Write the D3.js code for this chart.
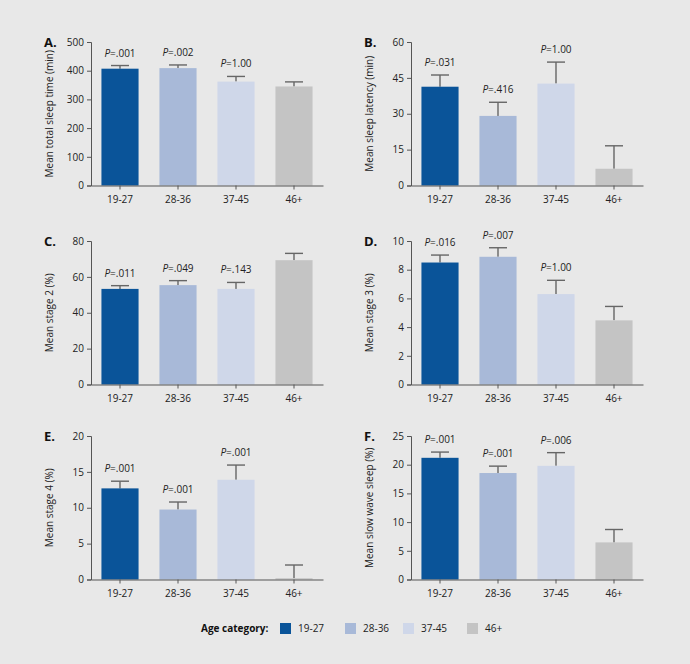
<!DOCTYPE html>
<html>

<head>
  <meta charset="UTF-8" />
  <title>Sleep by age category</title>
  <style>
    body {
      margin: 0;
      background: #e8e8e8;
      font-family: "Open Sans", "Noto Sans", sans-serif;
    }

    .axis path,
    .axis line {
      stroke: #555;
    }

    .axis text {
      font-size: 10px;
      fill: #222;
      font-family: "Open Sans", "Noto Sans", sans-serif;
    }
  </style>
  <script src="https://d3js.org/d3.v7.min.js"></script>
</head>

<body>
  <script>
    let categories = ["19-27", "28-36", "37-45", "46+"],
      colors = ["#0a5499", "#a8b9d8", "#cfd7e9", "#c4c4c4"];

    /* one small array per panel: means, error tops, p-values */
    let totalSleep = [407, 409, 362, 345],
      totalSleepErr = [418, 420, 380, 361],
      totalSleepP = [".001", ".002", "1.00", null];

    let latency = [41.3, 29.1, 42.6, 7.0],
      latencyErr = [46.2, 34.8, 51.6, 16.6],
      latencyP = [".031", ".416", "1.00", null];

    let stage2 = [53.3, 55.4, 53.3, 69.3],
      stage2Err = [55.1, 57.9, 56.9, 73.1],
      stage2P = [".011", ".049", ".143", null];

    let stage3 = [8.5, 8.9, 6.3, 4.47],
      stage3Err = [9.02, 9.53, 7.26, 5.44],
      stage3P = [".016", ".007", "1.00", null];

    let stage4 = [12.7, 9.75, 13.9, 0.18],
      stage4Err = [13.7, 10.8, 15.95, 2.02],
      stage4P = [".001", ".001", ".001", null];

    let sws = [21.2, 18.55, 19.8, 6.46],
      swsErr = [22.2, 19.75, 22.1, 8.71],
      swsP = [".001", ".001", ".006", null];

    let panels = [
      { letter: "A.", title: "Mean total sleep time (min)", max: 500, ticks: [0, 100, 200, 300, 400, 500], means: totalSleep, err: totalSleepErr, p: totalSleepP },
      { letter: "B.", title: "Mean sleep latency (min)", max: 60, ticks: [0, 15, 30, 45, 60], means: latency, err: latencyErr, p: latencyP },
      { letter: "C.", title: "Mean stage 2 (%)", max: 80, ticks: [0, 20, 40, 60, 80], means: stage2, err: stage2Err, p: stage2P },
      { letter: "D.", title: "Mean stage 3 (%)", max: 10, ticks: [0, 2, 4, 6, 8, 10], means: stage3, err: stage3Err, p: stage3P },
      { letter: "E.", title: "Mean stage 4 (%)", max: 20, ticks: [0, 5, 10, 15, 20], means: stage4, err: stage4Err, p: stage4P },
      { letter: "F.", title: "Mean slow wave sleep (%)", max: 25, ticks: [0, 5, 10, 15, 20, 25], means: sws, err: swsErr, p: swsP }
    ];

    let W = 690, H = 664,
      lefts = [91, 411],
      tops = [42, 241, 436],
      plotW = 232,
      plotH = 143.5;

    let svg = d3.select("body")
      .append("svg")
      .attr("width", W)
      .attr("height", H)
      .style("display", "block");

    svg.append("rect")
      .attr("width", W)
      .attr("height", H)
      .attr("fill", "#e8e8e8");

    let x = d3.scaleBand()
      .domain(categories)
      .range([0, plotW])
      .paddingInner(0.36)
      .paddingOuter(0.18);

    panels.forEach((p, i) => {
      let g = svg.append("g")
        .attr("transform", `translate(${lefts[i % 2]},${tops[Math.floor(i / 2)]})`);

      let y = d3.scaleLinear()
        .domain([0, p.max])
        .range([plotH, 0]);

      /* error bars (upper half only) */
      g.selectAll(".err")
        .data(categories)
        .enter()
        .append("g")
        .attr("class", "err")
        .each(function (d, j) {
          let cx = x(d) + x.bandwidth() / 2;
          let e = d3.select(this);
          e.append("line")
            .attr("x1", cx).attr("x2", cx)
            .attr("y1", y(p.means[j])).attr("y2", y(p.err[j]))
            .attr("stroke", "#666").attr("stroke-width", 1.4);
          e.append("line")
            .attr("x1", cx - 9).attr("x2", cx + 9)
            .attr("y1", y(p.err[j])).attr("y2", y(p.err[j]))
            .attr("stroke", "#666").attr("stroke-width", 1.4);
        });

      /* bars */
      g.selectAll(".bar")
        .data(categories)
        .enter()
        .append("rect")
        .attr("class", "bar")
        .attr("x", d => x(d))
        .attr("width", x.bandwidth())
        .attr("y", (d, j) => y(p.means[j]))
        .attr("height", (d, j) => plotH - y(p.means[j]))
        .attr("fill", (d, j) => colors[j]);

      /* P labels */
      let lab = g.selectAll(".plab")
        .data(categories.filter((d, j) => p.p[j] !== null))
        .enter()
        .append("text")
        .attr("class", "plab")
        .attr("x", d => x(d) + x.bandwidth() / 2)
        .attr("y", d => y(p.err[categories.indexOf(d)]) - 9)
        .attr("text-anchor", "middle")
        .style("font-size", "10px")
        .style("fill", "#222");
      lab.append("tspan").style("font-style", "italic").text("P");
      lab.append("tspan").text(d => "=" + p.p[categories.indexOf(d)]);

      /* axes */
      g.append("g")
        .attr("class", "axis")
        .call(d3.axisLeft(y).tickValues(p.ticks).tickSize(4).tickPadding(3).tickFormat(d3.format("d")));

      g.append("g")
        .attr("class", "axis")
        .attr("transform", `translate(0,${plotH})`)
        .call(d3.axisBottom(x).tickSize(4).tickPadding(6).tickSizeOuter(0));

      /* axis title */
      g.append("text")
        .attr("transform", `translate(-38,${plotH / 2}) rotate(-90)`)
        .attr("text-anchor", "middle")
        .style("font-size", "10px")
        .style("fill", "#222")
        .text(p.title);

      /* panel letter */
      g.append("text")
        .attr("x", -47)
        .attr("y", 5)
        .style("font-size", "13px")
        .style("font-weight", "bold")
        .style("fill", "#111")
        .text(p.letter);
    });

    /* legend */
    let legend = svg.append("g")
      .attr("transform", "translate(0,632)");

    legend.append("text")
      .attr("x", 201)
      .attr("y", 0)
      .style("font-size", "10px")
      .style("font-weight", "bold")
      .style("fill", "#111")
      .text("Age category:");

    let legendX = [280, 345, 403, 467];
    let items = legend.selectAll(".legend-item")
      .data(categories)
      .enter()
      .append("g")
      .attr("class", "legend-item")
      .attr("transform", (d, i) => `translate(${legendX[i]},0)`);

    items.append("rect")
      .attr("y", -9)
      .attr("width", 11)
      .attr("height", 11)
      .attr("fill", (d, i) => colors[i]);

    items.append("text")
      .attr("x", 18)
      .attr("y", 0)
      .style("font-size", "10px")
      .style("fill", "#222")
      .text(d => d);
  </script>
</body>

</html>
